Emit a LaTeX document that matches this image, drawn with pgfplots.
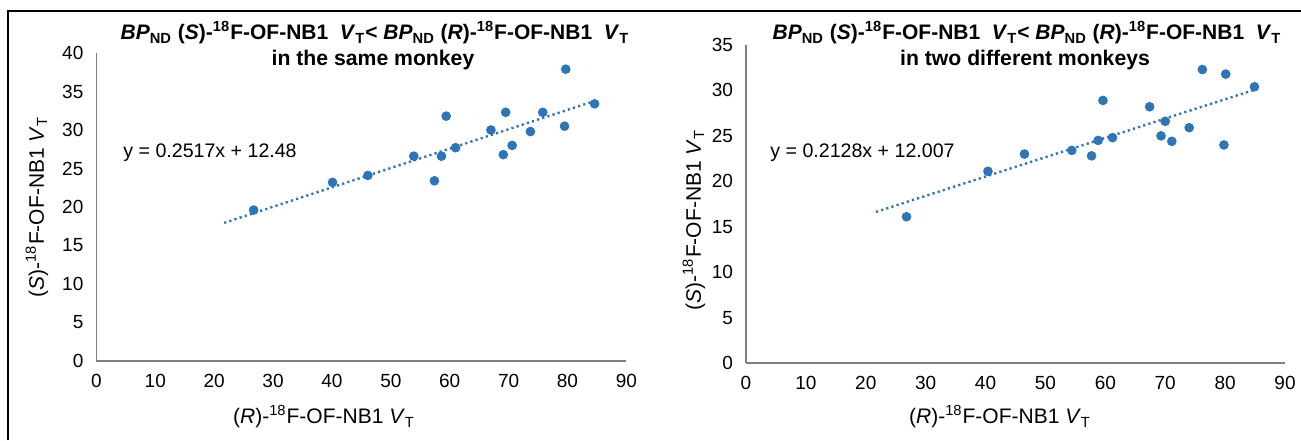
\documentclass[border=0pt]{standalone}
\usepackage{fontspec}
\setmainfont{Liberation Sans}
\usepackage{pgfplots}
\pgfplotsset{compat=1.18}
\definecolor{xlblue}{HTML}{2E75B6}
\definecolor{axgray}{HTML}{7F7F7F}
\pgfplotsset{
  xlstyle/.style={
    scale only axis, anchor=south west,
    axis lines=left, axis line style={-, axgray, line width=0.8pt},
    xmin=0, xmax=90, ymin=0,
    xtick={0,10,...,90},
    major tick length=0pt,
    tick label style={font=\fontsize{9.5}{11}\selectfont, black},
    xticklabel style={yshift=-3pt},
    yticklabel style={xshift=-3pt},
    /pgf/number format/assume math mode=true,
    enlargelimits=false, clip=false,
  },
  pts/.style={only marks, mark=*, mark size=2.2pt, color=xlblue},
  trend/.style={no marks, color=xlblue, line width=1.2pt, dash pattern=on 1.1pt off 1.6pt},
}
\newcommand{\ttl}{\textit{BP}\textsubscript{ND} (\textit{S})-\textsuperscript{18}F-OF-NB1\ \ \textit{V}\textsubscript{T}< \textit{BP}\textsubscript{ND} (\textit{R})-\textsuperscript{18}F-OF-NB1\ \ \textit{V}\textsubscript{T}}
\newcommand{\xlab}{(\textit{R})-\textsuperscript{18}F-OF-NB1 \textit{V}\textsubscript{T}}
\newcommand{\ylab}{(\textit{S})-\textsuperscript{18}F-OF-NB1 \textit{V}\textsubscript{T}}
\begin{document}
\begin{tikzpicture}
\useasboundingbox (0,0) rectangle (650.5pt,220pt);
\draw[line width=1.2pt] (4pt,0) -- (4pt,214.5pt) -- (650.5pt,214.5pt);

% same monkey
\begin{axis}[xlstyle, at={(48.2pt,39.5pt)}, width=265pt, height=154pt,
  ymax=40, ytick={0,5,...,40}]
\addplot[trend] coordinates {(21.7,17.94) (84.6,33.77)};
\addplot[pts] coordinates {
(26.7,19.6) (40.1,23.2) (46.1,24.1) (53.9,26.6) (57.4,23.4) (58.6,26.6)
(59.4,31.8) (61.0,27.7) (67.0,30.0) (69.1,26.8) (69.5,32.3) (70.6,28.0)
(73.7,29.8) (75.8,32.3) (79.5,30.5) (79.7,37.9) (84.6,33.4)};
\end{axis}

% two monkeys
\begin{axis}[xlstyle, at={(373pt,38.5pt)}, width=269.5pt, height=159pt,
  ymax=35, ytick={0,5,...,35}]
\addplot[trend] coordinates {(21.7,16.63) (84.9,30.07)};
\addplot[pts] coordinates {
(26.8,16.1) (40.4,21.1) (46.5,23.0) (54.4,23.4) (57.7,22.8) (58.8,24.5)
(59.6,28.9) (61.2,24.8) (67.4,28.2) (69.3,25.0) (70.0,26.6) (71.1,24.4)
(74.0,25.9) (76.2,32.3) (79.8,24.0) (80.1,31.8) (84.9,30.4)};
\end{axis}

\begin{scope}[every node/.style={inner sep=0pt}]
\node[font=\fontsize{10.5}{12}\selectfont\bfseries] at (187.5pt,203.5pt) {\ttl};
\node[font=\fontsize{10.6}{12}\selectfont\bfseries] at (186.5pt,190pt) {in the same monkey};
\node[font=\fontsize{10.5}{12}\selectfont\bfseries] at (513.5pt,203.5pt) {\ttl};
\node[font=\fontsize{10.6}{12}\selectfont\bfseries] at (512.5pt,190pt) {in two different monkeys};
\node[font=\fontsize{9.8}{11}\selectfont, anchor=west] at (61.5pt,143.5pt) {y = 0.2517x + 12.48};
\node[font=\fontsize{9.8}{11}\selectfont, anchor=west] at (385pt,143.5pt) {y = 0.2128x + 12.007};
\node[font=\fontsize{10.5}{12}\selectfont] at (162pt,11.5pt) {\xlab};
\node[font=\fontsize{10.5}{12}\selectfont] at (500pt,11.5pt) {\xlab};
\node[font=\fontsize{10.5}{12}\selectfont, rotate=90] at (18.5pt,116.5pt) {\ylab};
\node[font=\fontsize{10.5}{12}\selectfont, rotate=90] at (347pt,110pt) {\ylab};
\end{scope}
\end{tikzpicture}
\end{document}
